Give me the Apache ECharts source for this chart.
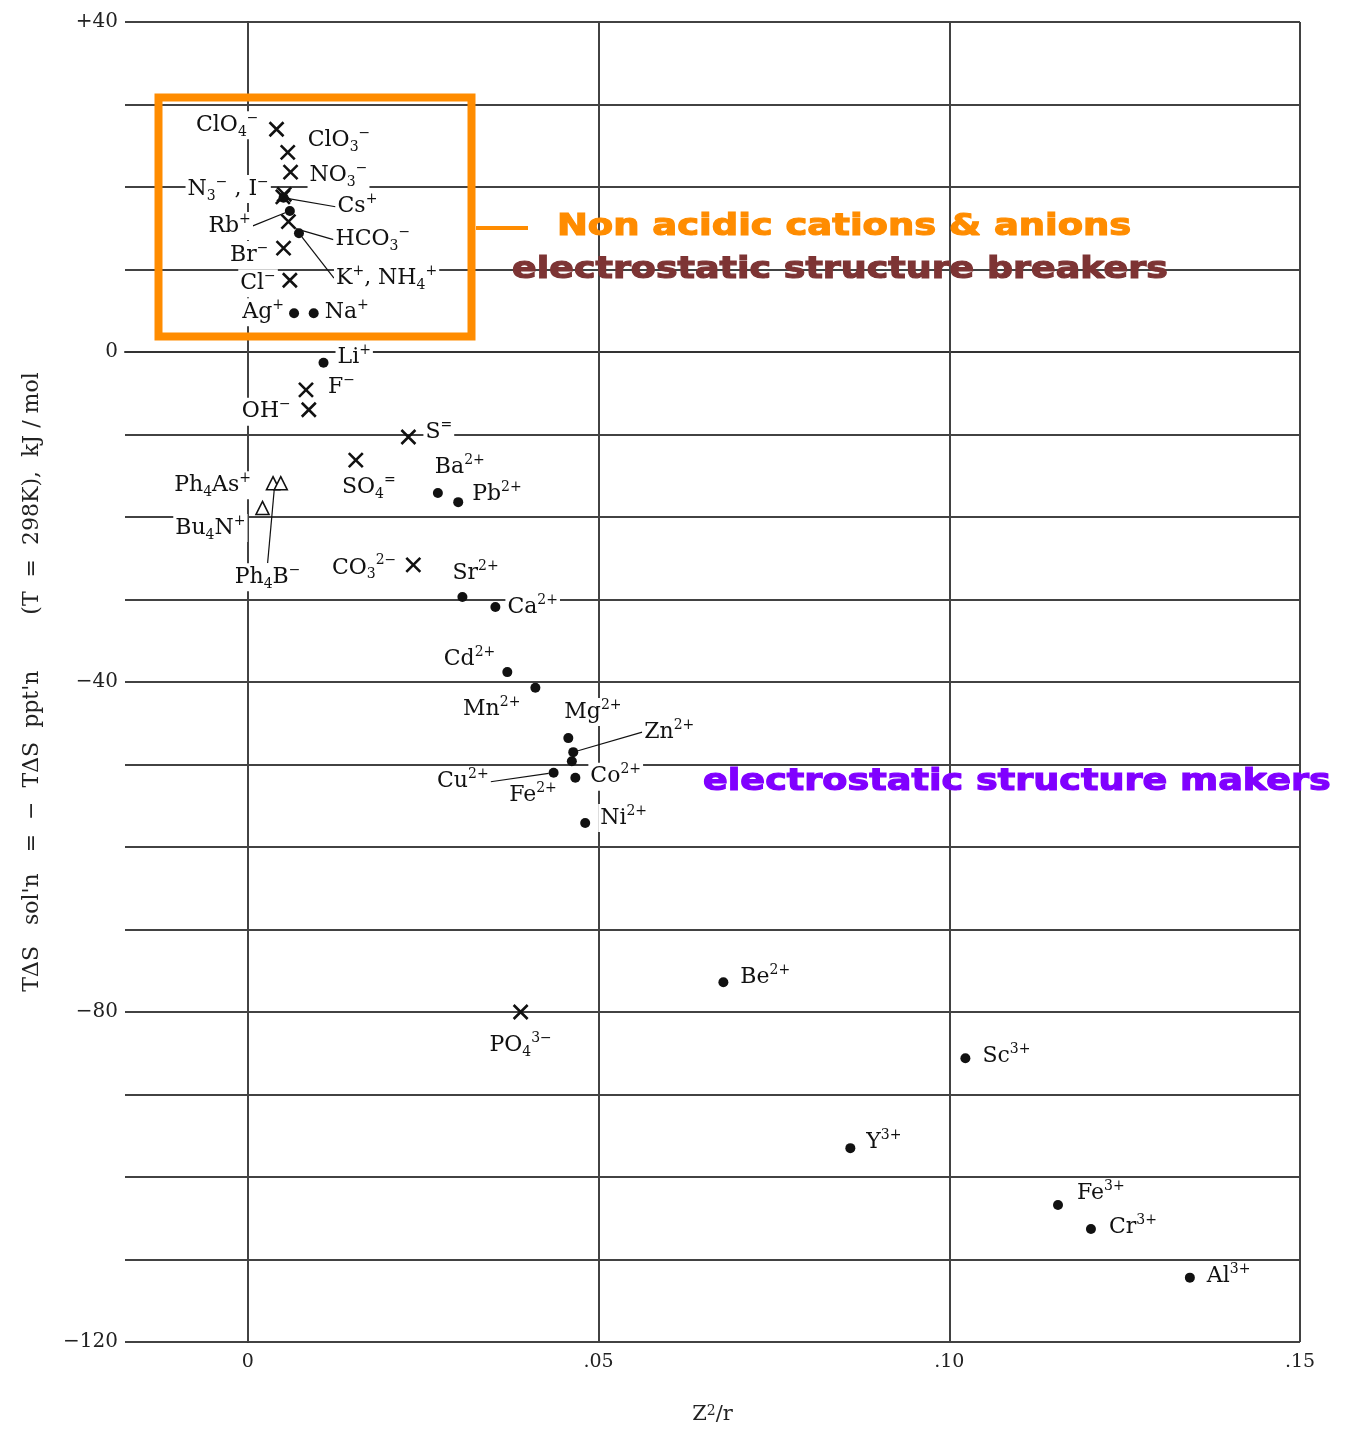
<!DOCTYPE html>
<html><head><meta charset="utf-8">
<script src="https://cdn.jsdelivr.net/npm/echarts@6/dist/echarts.min.js"></script>
<style>html,body{margin:0;padding:0;background:#fff}#c{width:1353px;height:1433px}</style>
</head><body><div id="c"></div>
<script>
// ---------- data ----------
const cationNames = ['Cs^+','Rb^+','K^+, NH_4^+','Ag^+','Na^+','Li^+','Ba^2+','Pb^2+','Sr^2+','Ca^2+','Cd^2+','Mn^2+','Mg^2+','Zn^2+','Fe^2+','Cu^2+','Co^2+','Ni^2+','Be^2+','Sc^3+','Y^3+','Fe^3+','Cr^3+','Al^3+'];
const cationX = [0.0051,0.0060,0.0073,0.0066,0.0094,0.0108,0.0271,0.0300,0.0306,0.0353,0.0370,0.0410,0.0457,0.0464,0.0462,0.0436,0.0467,0.0481,0.0678,0.1023,0.0859,0.1155,0.1202,0.1343];
const cationY = [18.7,17.1,14.4,4.7,4.7,-1.3,-17.1,-18.2,-29.7,-30.9,-38.8,-40.7,-46.8,-48.5,-49.6,-51.0,-51.6,-57.1,-76.4,-85.6,-96.5,-103.4,-106.3,-112.2];

const anionNames = ['ClO_4^−','ClO_3^−','NO_3^−','N_3^−','I^−','HCO_3^−','Br^−','Cl^−','F^−','OH^−','S^=','SO_4^=','CO_3^2−','PO_4^3−'];
const anionX = [0.0041,0.0057,0.0061,0.0050,0.0052,0.0058,0.0051,0.0060,0.0083,0.0087,0.0229,0.0154,0.0236,0.0389];
const anionY = [27.0,24.2,21.8,18.8,19.1,15.8,12.6,8.7,-4.6,-7.0,-10.3,-13.1,-25.8,-80.0];

const organicNames = ['Ph_4As^+','Ph_4B^−','Bu_4N^+'];
const organicX = [0.0036,0.0047,0.0021];
const organicY = [-15.9,-15.9,-18.9];

const xTickValues = [0, 0.05, 0.10, 0.15];
const xTickLabels = ['0', '.05', '.10', '.15'];
const yTickValues = [-120, -80, -40, 0, 40];
const yTickLabels = ['−120', '−80', '−40', '0', '+40'];

// ---------- label layout (style): [align, dx, dy, leaderLine, textOverride] ----------
const layout = {
  'Cs^+':['left',52,9,true], 'Rb^+':['right',-37,15,true], 'K^+, NH_4^+':['left',35,45,true],
  'Ag^+':['right',-8,-1], 'Na^+':['left',9,-1], 'Li^+':['left',12,-5],
  'Ba^2+':['left',-5,-26], 'Pb^2+':['left',12,-8], 'Sr^2+':['left',-12,-24], 'Ca^2+':['left',10,0],
  'Cd^2+':['right',-10,-13], 'Mn^2+':['right',-13,22], 'Mg^2+':['left',-6,-26],
  'Zn^2+':['left',69,-20,true], 'Fe^2+':['right',-13,34], 'Cu^2+':['right',-63,9,true],
  'Co^2+':['left',13,-1], 'Ni^2+':['left',13,-5], 'Be^2+':['left',15,-5],
  'Sc^3+':['left',15,-2], 'Y^3+':['left',14,-6], 'Fe^3+':['left',17,-12], 'Cr^3+':['left',16,-2], 'Al^3+':['left',15,-1],
  'ClO_4^−':['right',-16,-4], 'ClO_3^−':['left',18,-12], 'NO_3^−':['left',17,3],
  'N_3^−':['right',-12,-8,false,'N_3^− , I^−'], 'I^−':[null],
  'HCO_3^−':['left',45,18,true], 'Br^−':['right',-13,7], 'Cl^−':['right',-12,3],
  'F^−':['left',20,-3], 'OH^−':['right',-16,2], 'S^=':['left',15,-5], 'SO_4^=':['center',13,27],
  'CO_3^2−':['right',-15,3], 'PO_4^3−':['center',0,33],
  'Ph_4As^+':['right',-20,2], 'Ph_4B^−':['left',-48,94,true], 'Bu_4N^+':['right',-15,20]
};

function toRich(s){
  return s.replace(/_(\d)/g,'{b|$1}').replace(/\^([0-9]*[+−=])/g,'{p|$1}');
}
const SERIF = '"DejaVu Serif", "Liberation Serif", serif';
const INK = '#111111';

function buildItems(names, xs, ys){
  return names.map((n,i)=>{
    const L = layout[n] || ['left',12,0];
    const item = {name:n, value:[xs[i], ys[i]]};
    if (L[0] === null) { item.label = {show:false}; return item; }
    item.label = {align:L[0], formatter: toRich(L[4] || n)};
    if (L[3]) item.labelLine = {show:true, length2:0, lineStyle:{color:INK, width:1.2, opacity:1}};
    return item;
  });
}
function offsets(names){
  return names.map(n=>{ const L = layout[n] || ['left',12,0]; return {dx:L[1]||0, dy:L[2]||0, align:L[0]||'left'}; });
}
const seriesNames = [cationNames, anionNames, organicNames];
const seriesOffsets = seriesNames.map(offsets);

const labelBase = {
  show:true, position:'inside', verticalAlign:'middle',
  fontFamily:SERIF, fontSize:22, lineHeight:28, color:INK, opacity:1,
  backgroundColor:'#ffffff', padding:[0,2],
  rich:{
    b:{fontFamily:SERIF, fontSize:14, lineHeight:14, verticalAlign:'bottom', color:INK},
    p:{fontFamily:SERIF, fontSize:14, lineHeight:14, verticalAlign:'top', color:INK}
  }
};
function labelLayoutFn(p){
  const o = seriesOffsets[p.seriesIndex][p.dataIndex];
  return {dx:o.dx, dy:o.dy, align:o.align, verticalAlign:'middle'};
}

const chart = echarts.init(document.getElementById('c'), null, {renderer:'canvas'});
const option = {
  animation:false,
  backgroundColor:'#ffffff',
  grid:{left:125, right:53, top:22, bottom:91, outerBoundsMode:'none'},
  xAxis:{
    type:'value', min:-0.0175, max:0.15, interval:0.0025,
    axisLine:{show:true, lineStyle:{color:'#333', width:2}},
    axisTick:{show:false}, splitLine:{show:false},
    axisLabel:{
      interval:0, margin:11, fontFamily:SERIF, fontSize:19, color:'#222',
      formatter:function(v){
        for (let i=0;i<xTickValues.length;i++) if (Math.abs(v-xTickValues[i])<1e-6) return xTickLabels[i];
        return '';
      }
    },
    name:'Z{p|2}/r', nameLocation:'middle', nameGap:62,
    nameTextStyle:{fontFamily:SERIF, fontSize:21, color:'#222',
      rich:{p:{fontFamily:SERIF, fontSize:14, verticalAlign:'top', lineHeight:14, color:'#222'}}}
  },
  yAxis:{
    type:'value', min:-120, max:40, interval:10,
    axisLine:{show:true, lineStyle:{color:'#333', width:2}},
    axisTick:{show:false},
    splitLine:{show:true, lineStyle:{color:'#424242', width:2}},
    axisLabel:{
      margin:7, fontFamily:SERIF, fontSize:20, color:'#222',
      formatter:function(v){ const i = yTickValues.indexOf(v); return i>=0 ? yTickLabels[i] : ''; }
    },
    name:"TΔS   sol'n   =  −  TΔS  ppt'n        (T  =  298K),  kJ / mol",
    nameLocation:'middle', nameGap:82,
    nameTextStyle:{fontFamily:SERIF, fontSize:22, color:'#222'}
  },
  series:[
    {
      type:'scatter', name:'cations', z:3,
      symbol:'circle', symbolSize:10,
      itemStyle:{color:INK, opacity:1},
      label:labelBase, labelLayout:labelLayoutFn,
      data:buildItems(cationNames, cationX, cationY),
      markLine:{
        silent:true, z:1, symbol:['none','none'], label:{show:false},
        lineStyle:{color:'#424242', width:2, type:'solid', opacity:1},
        emphasis:{disabled:true},
        data:xTickValues.map(v=>({xAxis:v}))
      }
    },
    {
      type:'scatter', name:'anions', z:3,
      symbol:'path://M0,0L10,10M10,0L0,10', symbolSize:14,
      itemStyle:{color:INK, borderColor:INK, borderWidth:2.6, opacity:1},
      label:labelBase, labelLayout:labelLayoutFn,
      data:buildItems(anionNames, anionX, anionY)
    },
    {
      type:'scatter', name:'organic', z:3,
      symbol:'triangle', symbolSize:13,
      itemStyle:{color:'#ffffff', borderColor:INK, borderWidth:1.6, opacity:1},
      label:labelBase, labelLayout:labelLayoutFn,
      data:buildItems(organicNames, organicX, organicY)
    }
  ],
  graphic:[
    {type:'rect', z:100, silent:true, shape:{x:158.5, y:97.5, width:313, height:239},
     style:{fill:'none', stroke:'#ff8c00', lineWidth:8}},
    {type:'line', z:100, silent:true, shape:{x1:476, y1:228, x2:528, y2:228},
     style:{stroke:'#ff8c00', lineWidth:4}},
    {type:'text', z:100, silent:true, x:557, y:227, scaleX:1.19,
     style:{text:'Non acidic cations & anions', fill:'#ff8c00', stroke:'#ff8c00', lineWidth:1.2,
       font:'bold 31px "DejaVu Sans"', textVerticalAlign:'middle', verticalAlign:'middle'}},
    {type:'text', z:100, silent:true, x:512, y:270, scaleX:1.175,
     style:{text:'electrostatic structure breakers', fill:'#7d3434', stroke:'#7d3434', lineWidth:1.2,
       font:'bold 31px "DejaVu Sans"', textVerticalAlign:'middle', verticalAlign:'middle'}},
    {type:'text', z:100, silent:true, x:703, y:782, scaleX:1.18,
     style:{text:'electrostatic structure makers', fill:'#8000ff', stroke:'#8000ff', lineWidth:1.2,
       font:'bold 31px "DejaVu Sans"', textVerticalAlign:'middle', verticalAlign:'middle'}}
  ]
};
chart.setOption(option);
</script>
</body></html>
